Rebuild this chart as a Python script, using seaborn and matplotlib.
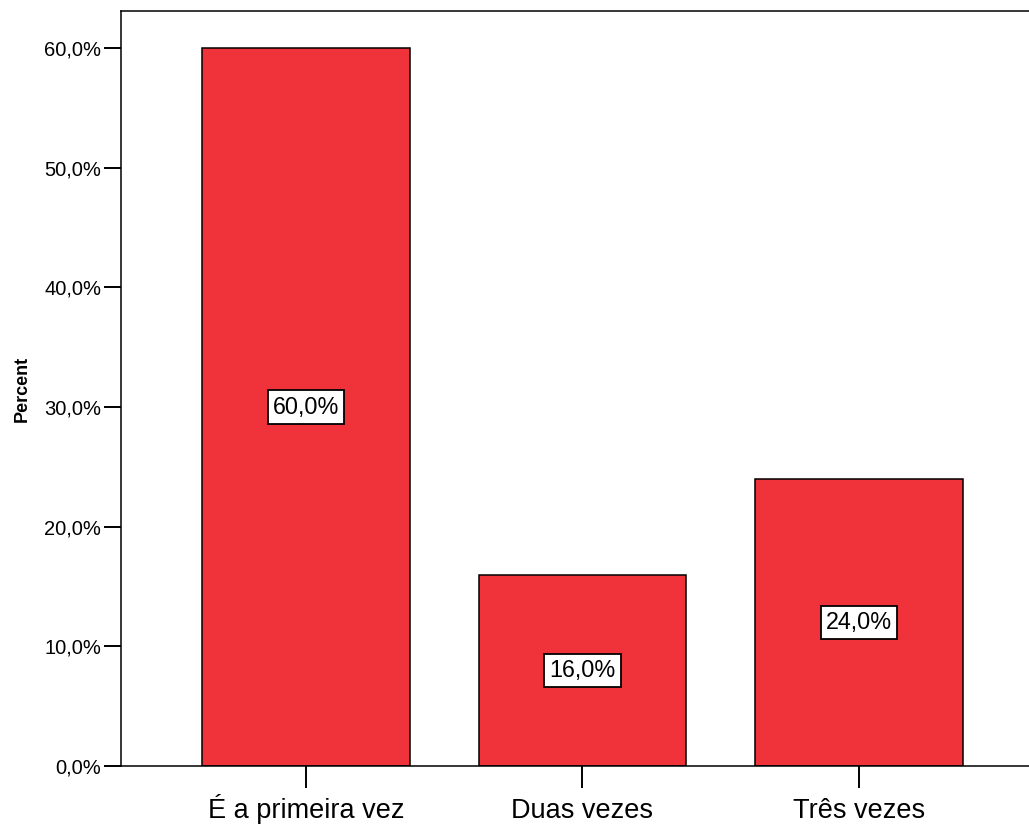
import matplotlib
matplotlib.use("Agg")
import matplotlib.pyplot as plt
import seaborn as sns
import pandas as pd

categories = ["É a primeira vez", "Duas vezes", "Três vezes"]
percents = [60.0, 16.0, 24.0]
y_ticks = [0, 10, 20, 30, 40, 50, 60]

sns.set_theme(style="white")
plt.rcParams["font.family"] = ["Liberation Sans", "DejaVu Sans"]
plt.rcParams["text.color"] = "black"
plt.rcParams["xtick.color"] = "black"
plt.rcParams["ytick.color"] = "black"
plt.rcParams["axes.labelcolor"] = "black"

df = pd.DataFrame({"categoria": categories, "pct": percents})

fig = plt.figure(figsize=(10.29, 8.24), dpi=100)
ax = fig.add_axes([0.1176, 0.0704, 0.8824, 0.9163])

sns.barplot(data=df, x="categoria", y="pct", color="#F0333B", saturation=1,
            width=0.752, edgecolor="black", linewidth=1.1, ax=ax)

ax.set_xlim(-0.669, 2.615)
ax.set_ylim(0, 63.1)
ax.set_yticks(y_ticks)
ax.set_yticklabels([f"{v:.1f}%".replace(".", ",") for v in y_ticks])

for sp in ["left", "bottom", "top"]:
    ax.spines[sp].set_visible(True)
    ax.spines[sp].set_color("black")
    ax.spines[sp].set_linewidth(1.1)
ax.spines["right"].set_visible(False)

ax.tick_params(axis="y", which="major", direction="out", length=12.2, width=1.4,
               labelsize=14.5, left=True, pad=2)
ax.tick_params(axis="x", which="major", direction="out", length=15.8, width=1.4,
               labelsize=19.5, bottom=True, pad=22)
for lab in ax.get_xticklabels():
    lab.set_verticalalignment("baseline")

ax.set_xlabel("")
ax.set_ylabel("Percent", fontsize=13, fontweight="bold", labelpad=10)

for i, v in enumerate(percents):
    ax.text(i, v / 2, f"{v:.1f}%".replace(".", ","), ha="center", va="center",
            fontsize=16.8, color="black",
            bbox=dict(boxstyle="square,pad=0.22", facecolor="white",
                      edgecolor="black", linewidth=1.3))

fig.savefig("out.png", dpi=100)
